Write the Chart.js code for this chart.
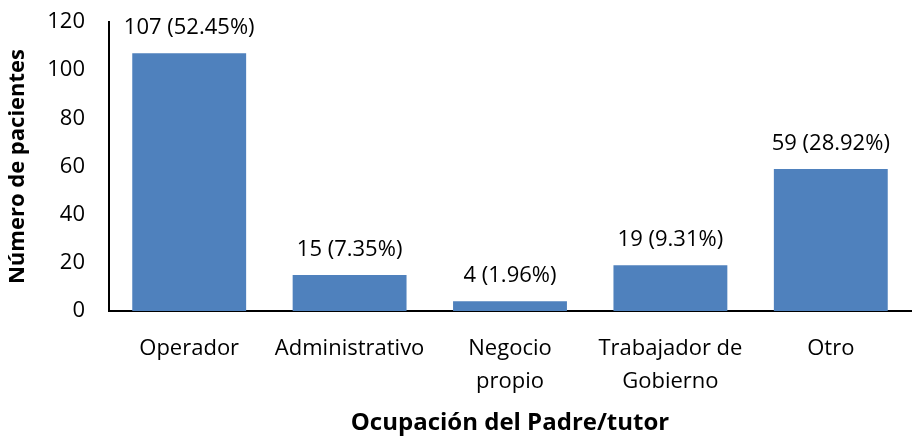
<!DOCTYPE html>
<html>
<head>
<meta charset="utf-8">
<script src="https://cdn.jsdelivr.net/npm/chart.js@4"></script>
<style>
  html, body { margin: 0; padding: 0; background: #fff; }
  #wrap { width: 912px; height: 441px; }
</style>
</head>
<body>
<div id="wrap"><canvas id="chart" width="912" height="441"></canvas></div>
<script>
const categories = ['Operador', 'Administrativo', ['Negocio', 'propio'], ['Trabajador de', 'Gobierno'], 'Otro'];
const counts = [107, 15, 4, 19, 59];
const percents = ['52.45%', '7.35%', '1.96%', '9.31%', '28.92%'];
const yTicks = [0, 20, 40, 60, 80, 100, 120];

const FONT = '"Open Sans", sans-serif';

// value labels above each bar
const barLabels = {
    id: 'barLabels',
    afterDatasetsDraw(chart) {
        const ctx = chart.ctx;
        const meta = chart.getDatasetMeta(0);
        ctx.save();
        ctx.font = '22px ' + FONT;
        ctx.fillStyle = '#000';
        ctx.textAlign = 'center';
        ctx.textBaseline = 'alphabetic';
        meta.data.forEach(function (bar, i) {
            ctx.fillText(counts[i] + ' (' + percents[i] + ')', bar.x, bar.y - 19);
        });
        ctx.restore();
    }
};

new Chart(document.getElementById('chart'), {
    type: 'bar',
    data: {
        labels: categories,
        datasets: [{
            data: counts,
            backgroundColor: '#4F81BD',
            categoryPercentage: 1,
            barPercentage: 0.71
        }]
    },
    options: {
        responsive: false,
        animation: false,
        layout: { padding: { top: 22, right: 1, left: 0, bottom: 0 } },
        plugins: {
            legend: { display: false },
            tooltip: { enabled: false }
        },
        scales: {
            x: {
                grid: { display: false },
                border: { display: true, color: '#000', width: 2 },
                ticks: { color: '#000', font: { family: FONT, size: 22, lineHeight: 1.5 }, padding: 13, maxRotation: 0, autoSkip: false },
                title: { display: true, text: 'Ocupación del Padre/tutor', color: '#000', font: { family: FONT, size: 24, weight: 'bold' }, padding: { top: 10, bottom: 3 } },
                afterFit(scale) { scale.height = 130; }
            },
            y: {
                min: 0,
                max: 120,
                afterBuildTicks(scale) { scale.ticks = yTicks.map(v => ({ value: v })); },
                grid: { display: false },
                border: { display: true, color: '#000', width: 2 },
                ticks: { color: '#000', font: { family: FONT, size: 22 }, padding: 16 },
                title: { display: true, text: 'Número de pacientes', color: '#000', font: { family: FONT, size: 22, weight: 'bold' }, padding: { top: 5, bottom: 4 } },
                afterFit(scale) {
                    scale.width = 109;
                    scale.paddingTop = 0;
                    scale.paddingBottom = 0;
                }
            }
        }
    },
    plugins: [barLabels]
});
</script>
</body>
</html>
